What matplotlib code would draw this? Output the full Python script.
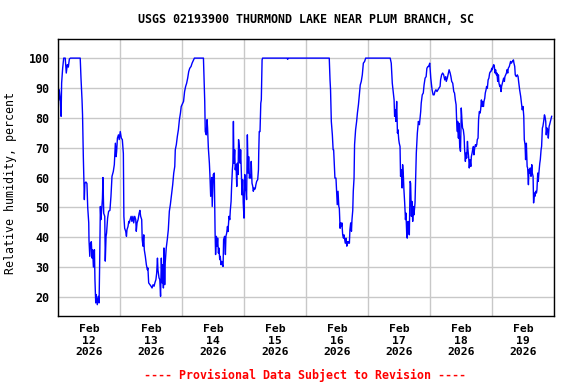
import numpy as np
import pandas as pd
import matplotlib
matplotlib.use("Agg")
import matplotlib.pyplot as plt
import matplotlib.dates as mdates

TITLE = "USGS 02193900 THURMOND LAKE NEAR PLUM BRANCH, SC"
YLABEL = "Relative humidity, percent"
NOTE = "---- Provisional Data Subject to Revision ----"
START = "2026-02-12 00:00"
END = "2026-02-20 00:00"
YTICKS = [20, 30, 40, 50, 60, 70, 80, 90, 100]

# hours since Feb 12 00:00
hours_1 = [0.3, 0.5, 0.9, 1.2, 1.4, 1.8, 2.2, 2.8, 3.2, 3.6, 4.0, 4.4, 4.8, 8.6, 8.9, 9.3, 9.5, 9.8,
           10.2, 10.4, 10.8, 11.2, 11.5, 11.9, 12.0, 12.3, 12.6, 12.9, 13.2, 13.4, 13.7, 14.1, 14.3,
           14.6, 14.8, 15.2, 15.6, 15.9, 16.1, 16.4, 16.6, 16.9, 17.2, 17.4, 17.7, 18.1, 18.3, 18.6,
           18.8, 19.2, 19.6, 20.1, 20.5, 20.9, 21.4, 21.8, 22.2, 22.5, 22.7, 23.0, 23.4, 23.7, 24.1,
           24.5, 24.9, 25.3, 25.5, 25.8, 26.2, 26.5, 26.7, 27.1, 27.4, 27.6, 27.9, 28.3, 28.6, 29.0,
           29.3, 29.7, 30.1, 30.3, 30.6, 31.0, 31.4, 31.7, 32.0, 32.4, 32.6, 32.9, 33.2, 33.4, 33.8,
           34.2, 34.6, 34.8, 35.1, 35.6, 36.0, 36.4, 36.8, 37.2, 37.5, 37.9, 38.2, 38.5, 38.7, 39.1,
           39.4, 39.7, 40.0, 40.3, 40.5, 40.8, 41.0, 41.3, 41.5, 41.9, 42.3, 42.7, 43.1, 43.5, 44.0,
           44.4, 44.8, 45.2, 45.4, 45.8, 46.2, 46.6, 47.0, 47.4, 47.7, 48.3]
rh_1 = [86, 89.4, 86, 80.5, 91.6, 96.6, 100, 100, 95, 97.8, 97, 99.7, 100, 100, 93.3, 86, 81, 67,
        52.6, 58, 58.5, 58, 50, 44.8, 39, 33.6, 38, 38.5, 33, 35.8, 30, 35.8, 25.8,
        18, 20.8, 17.4, 20.2, 18, 29.7, 50.3, 45.9, 49, 53, 60, 48, 47, 32, 40.3,
        41.4, 46.4, 48.7, 49, 53.7, 60.4, 62, 64.3, 71.5, 67, 68.8, 73.2, 74.3, 72.7, 75.4,
        73.2, 72.7, 68, 47, 43, 42, 40.3, 42.5, 43.6, 45.3, 44.8, 45.9, 47, 45.3, 47,
        44.8, 47, 45.9, 42, 44.8, 45.9, 48, 49, 47, 45.9, 39.2, 37, 40.8, 35.8, 33.6,
        30.8, 29.1, 29.7, 24.7, 24.1, 23.6, 23, 24.1, 23.6, 24.7, 25.8, 28, 33, 29, 26.4,
        25.8, 20.2, 33, 24.7, 30.8, 23, 36.4, 24.1, 31.3, 36.4, 39.2, 42.5, 48.7, 51, 54.8,
        57.6, 61.5, 63.7, 69.3, 71, 73.8, 76, 79.4, 81.6, 83.8, 84.9]

hours_2 = [48.6, 49.0, 49.4, 49.8, 50.2, 50.6, 51.0, 51.5, 51.9, 52.4, 52.8, 56.3, 56.5, 56.8, 57.0,
           57.4, 57.7, 57.9, 58.2, 58.6, 58.8, 59.1, 59.5, 59.7, 60.1, 60.5, 60.8, 61.0, 61.3, 61.6,
           61.8, 62.1, 62.3, 62.6, 62.8, 63.1, 63.4, 63.6, 63.9, 64.1, 64.5, 64.8, 65.0, 65.3, 65.6,
           65.8, 66.2, 66.5, 66.7, 67.0, 67.2, 67.5, 67.7, 67.9, 68.1, 68.4, 68.6, 68.9, 69.2, 69.4,
           69.7, 69.9, 70.2, 70.5, 70.7, 71.0, 71.2, 71.5, 71.7, 72.0, 72.3, 72.5, 72.8, 73.0, 73.3,
           73.6, 73.8, 74.1, 74.3, 74.6, 74.8, 75.1, 75.4, 75.6, 75.9, 76.1, 76.4, 76.6, 76.9, 77.3,
           77.6, 77.7, 77.9, 78.2, 78.5, 78.7, 79.0, 79.2, 88.7, 88.9, 89.1, 105.0]
rh_2 = [85.5, 88.8, 90.5, 91.6, 93.3, 95.5, 96.6, 97.2, 98.3, 99.2, 100, 100, 94.4, 85.5, 75.4,
        74.3, 79.4, 76.6, 69.9, 64.8, 61, 53.7, 60, 50.3, 61, 61.5, 42, 34.2, 40.3, 37,
        39.7, 34.7, 36.4, 32.5, 33.6, 30.8, 31.9, 30.8, 30.2, 39.2, 40.3, 34.2, 40.3, 41.4, 43.6,
        41.9, 47, 45.9, 49, 52, 57, 62.6, 64.8, 78.8, 64.8, 69.3, 62.6, 64.3, 57, 64.8,
        61, 72.7, 69.9, 64.8, 69.3, 61, 54.2, 59.3, 51.5, 46.4, 61, 56, 55.4, 52.6, 74.3,
        61.5, 67, 59.8, 61, 59.8, 65.4, 58.1, 57, 55.4, 56.5, 56, 56.5, 57.6, 58.7, 59.3,
        62.6, 68.2, 75.4, 75.4, 84.9, 86, 99.4, 100, 100, 99.6, 100, 100]

hours_3 = [105.3, 105.5, 105.8, 106.2, 106.5, 106.7, 107.0, 107.2, 107.6, 107.9, 108.1, 108.4, 108.7,
           108.9, 109.2, 109.4, 109.7, 109.9, 110.2, 110.5, 110.7, 111.0, 111.2, 111.5, 111.8, 112.0,
           112.3, 112.5, 112.8, 113.0, 113.3, 113.6, 113.8, 114.1, 114.3, 114.6, 114.8, 115.2, 115.6,
           115.9, 116.3, 116.6, 117.0, 117.4, 117.8, 118.2, 118.7, 119.1, 128.6, 129.0, 129.4, 129.8,
           130.1, 130.3, 130.6, 130.8, 131.1, 131.4, 131.6, 131.9, 132.1, 132.4, 132.6, 132.9, 133.2,
           133.4, 133.7, 133.9, 134.2, 134.5, 134.7, 135.0, 135.2, 135.5, 135.7, 136.0, 136.3, 136.5,
           136.8, 137.0, 137.3, 137.6, 137.8, 138.2, 138.5, 138.7, 139.1, 139.5, 139.9, 140.1, 140.4,
           140.6, 141.0, 141.4, 141.7, 142.1, 142.5, 142.8, 143.2]
rh_3 = [92.7, 89.4, 78.8, 74.3, 69.3, 69.3, 63.7, 59.8, 59.8, 54.8, 50.9, 55.4, 50.3,
        49.7, 43, 44.8, 43.6, 44.8, 40.8, 39.7, 40.8, 39.2, 38, 39.7, 37, 38.5,
        38, 38.5, 38, 42.5, 44.8, 42, 45.9, 49, 55.4, 59.8, 71, 76, 78.8,
        81.6, 84.4, 87.2, 91, 92.2, 94.4, 98.3, 98.9, 100, 100, 98.3, 91.6, 88.3,
        86, 80.5, 82.7, 78.8, 85.5, 74.9, 76, 72.7, 71.5, 70.4, 60.4, 62.6, 56.5,
        64.3, 60.4, 56, 51.5, 45.9, 48.1, 40.8, 39.7, 45.3, 44.2, 40.8, 58.7, 58.1,
        47, 52, 45.3, 50.3, 47.5, 51.5, 61, 68.2, 74.9, 78.8, 77.7, 79.4, 82.1,
        84.9, 87.7, 88.3, 91, 93.3, 93.8, 96.6, 97.2]

hours_4 = [143.5, 143.9, 144.3, 144.8, 145.2, 145.6, 145.9, 146.3, 146.7, 147.1, 147.5, 147.9, 148.1,
           148.5, 148.9, 149.3, 149.7, 150.1, 150.3, 150.7, 151.1, 151.4, 151.8, 152.1, 152.4, 152.8,
           153.2, 153.5, 153.8, 154.1, 154.3, 154.6, 154.7, 155.0, 155.2, 155.5, 155.8, 156.0, 156.1,
           156.4, 156.6, 156.9, 157.2, 157.4, 157.7, 157.9, 158.2, 158.5, 158.7, 159.0, 159.2, 159.5,
           159.8, 160.0, 160.3, 160.5, 160.8, 161.0, 161.3, 161.6, 161.8, 162.1, 162.3, 162.6, 162.8,
           163.1, 163.4, 163.6, 163.9, 164.1, 164.4, 164.7, 164.9, 165.2, 165.4, 165.7, 165.9, 166.2,
           166.5, 166.8, 167.1, 167.4, 167.6, 167.9, 168.1, 168.4, 168.7, 168.9, 169.2, 169.4, 169.7,
           169.9, 170.2, 170.5, 170.7, 171.0, 171.2, 171.5, 171.7, 172.0, 172.3, 172.5, 172.8, 173.0,
           173.3, 173.6, 173.8, 174.1, 174.3, 174.7, 175.0, 175.2, 175.5, 175.9, 176.3, 176.5, 176.8,
           177.0, 177.4, 177.8, 178.1, 178.3, 178.7, 179.1, 179.4, 179.7, 180.0, 180.3, 180.5, 180.8,
           181.0, 181.3, 181.6, 181.8, 182.1, 182.3, 182.6, 182.8, 183.1, 183.4, 183.6, 183.9, 184.1,
           184.4, 184.6, 184.9, 185.2, 185.4, 185.7, 185.9, 186.2, 186.5, 186.7, 187.0, 187.2, 187.5,
           187.7, 188.0, 188.3, 188.5, 188.8, 189.0, 189.3, 189.6, 189.8, 190.1, 190.3, 190.6, 190.8,
           191.1]
rh_4 = [97.2, 98.3, 93.3, 89.4, 87.7, 87.7, 88.8, 89.4, 88.8, 89.4, 90, 90.5, 92.7,
        94.4, 95, 94.4, 92.7, 93.8, 92.2, 93.3, 95, 96.1, 95, 93.8, 92.2, 91.6,
        88.8, 88.3, 86, 84.4, 79.4, 75.4, 78.8, 73.2, 78.2, 70.4, 68.8, 77.1, 83.3,
        78.8, 76.6, 76, 73.8, 69.3, 65.4, 68.2, 66.5, 72.1, 69.3, 66.5, 63.2, 66,
        63.7, 67, 68.2, 69.3, 70.4, 67.6, 69.9, 71, 70.4, 71, 72.7, 73.2, 79.4,
        82.1, 81.6, 82.7, 86, 83.8, 85.5, 83.8, 85.5, 86.6, 88.3, 89.4, 90.5, 89.9,
        92.7, 93.3, 95, 95.5, 95.5, 96.6, 96.1, 97.2, 97.8, 97.2, 95, 96.1, 94.4,
        95, 92.2, 94.4, 91.6, 90.5, 91, 88.8, 90.5, 91.6, 92.7, 93.3, 92.2, 93.8,
        94.4, 95, 96.1, 95, 96.6, 97.2, 98.3, 98.9, 98.3, 98.9, 99.4, 98.3, 97.2,
        94.4, 93.8, 94.4, 93.8, 92.2, 89.4, 87.2, 84.9, 82.7, 83.8, 80.5, 72.7, 71,
        66, 71.5, 63.7, 63.2, 57.6, 62.6, 61.5, 63.2, 60.4, 64.3, 61.5, 60.4, 51.5,
        54.8, 53.7, 55.4, 54.8, 55.9, 61.5, 58.7, 62, 64.8, 66, 69.3, 70.4, 76.6,
        77.1, 78.8, 81, 80.5, 78.8, 74.3, 76.6, 76, 73.2, 77.1, 77.7, 78.8, 79.4,
        80.5]

hours = hours_1 + hours_2 + hours_3 + hours_4
rh = rh_1 + rh_2 + rh_3 + rh_4
times = pd.Timestamp(START) + pd.to_timedelta(hours, unit="h")

plt.rcParams["font.family"] = "DejaVu Sans Mono"
plt.rcParams["font.weight"] = "bold"

fig = plt.figure(figsize=(5.76, 3.84), dpi=100)
ax = fig.add_axes([0.1007, 0.177, 0.8611, 0.7214])

ax.plot(times, rh, color="#0000ff", lw=1.0)

ax.set_xlim(pd.Timestamp(START), pd.Timestamp(END))
ax.set_ylim(13.6, 106.4)
ax.set_yticks(YTICKS)

ax.xaxis.set_major_locator(mdates.HourLocator(byhour=[12]))
ax.xaxis.set_major_formatter(mdates.DateFormatter("%b\n%d\n%Y"))
ax.xaxis.set_minor_locator(mdates.DayLocator())

ax.grid(True, which="minor", axis="x", color="#c8c8c8", lw=1)
ax.grid(True, which="major", axis="y", color="#c8c8c8", lw=1)
ax.set_axisbelow(True)
ax.tick_params(which="both", length=0)
ax.tick_params(axis="x", labelsize=8.2, pad=6)
ax.tick_params(axis="y", labelsize=8.4, pad=6)
for lab in ax.get_xticklabels():
    lab.set_linespacing(1.15)

for sp in ax.spines.values():
    sp.set_color("black")
    sp.set_linewidth(1.0)

ax.set_ylabel(YLABEL, fontsize=8.4)
ax.yaxis.set_label_coords(-0.082, 0.48)
fig.text(0.532, 0.948, TITLE, ha="center", va="center", fontsize=8.4)
fig.text(0.53, 0.023, NOTE, ha="center", va="center", fontsize=8.4, color="red")

fig.savefig("out.png", dpi=100)
